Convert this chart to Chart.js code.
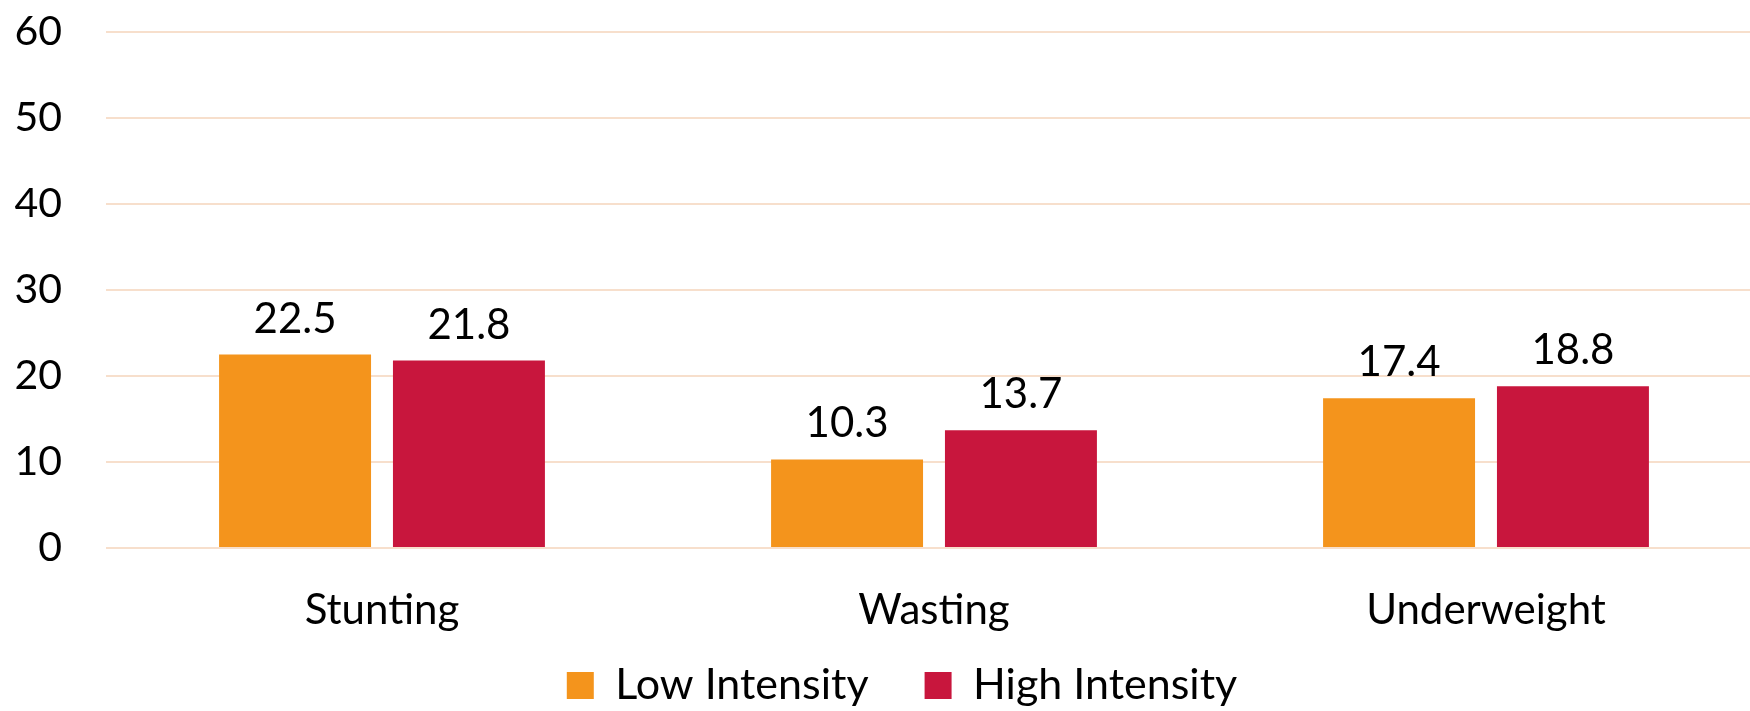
<!DOCTYPE html>
<html>
<head>
<meta charset="utf-8">
<script src="https://cdn.jsdelivr.net/npm/chart.js@4.4.1/dist/chart.umd.min.js"></script>
<style>
  html, body { margin: 0; padding: 0; background: #fff; overflow: hidden; }
  #wrap { width: 1762px; height: 711px; }
</style>
</head>
<body>
<div id="wrap"><canvas id="chart" width="1762" height="711"></canvas></div>
<script>
// Prevalence (%) by intensity group
const categories = ['Stunting', 'Wasting', 'Underweight'];
const lowIntensity = [22.5, 10.3, 17.4];
const highIntensity = [21.8, 13.7, 18.8];
const seriesNames = ['Low Intensity', 'High Intensity'];
const yTicks = [0, 10, 20, 30, 40, 50, 60];

const FONT = 'Lato, "Open Sans", sans-serif';

// Writes each bar's value just above it
const valueLabels = {
  id: 'valueLabels',
  afterDatasetsDraw(chart) {
    const ctx = chart.ctx;
    ctx.save();
    ctx.font = '42px ' + FONT;
    ctx.fillStyle = '#000';
    ctx.textAlign = 'center';
    ctx.textBaseline = 'alphabetic';
    chart.data.datasets.forEach((ds, i) => {
      chart.getDatasetMeta(i).data.forEach((bar, j) => {
        ctx.fillText(ds.data[j].toFixed(1), bar.x, bar.y - 22);
      });
    });
    ctx.restore();
  }
};

// Pulls the legend row up under the category labels and nudges it right
const legendPlacement = {
  id: 'legendPlacement',
  afterLayout(chart) {
    const lg = chart.legend;
    if (!lg) return;
    lg.top -= 40;
    lg.left += 42;
    lg.height = lg.bottom - lg.top;
    lg.width = lg.right - lg.left;
  }
};

new Chart(document.getElementById('chart'), {
  type: 'bar',
  data: {
    labels: categories,
    datasets: [
      { label: seriesNames[0], data: lowIntensity, backgroundColor: '#F4941C',
        categoryPercentage: 0.63, barPercentage: 0.874 },
      { label: seriesNames[1], data: highIntensity, backgroundColor: '#C8163D',
        categoryPercentage: 0.63, barPercentage: 0.874 }
    ]
  },
  options: {
    responsive: false,
    animation: false,
    layout: { padding: { top: 32, right: 0, bottom: 0, left: 0 } },
    plugins: {
      legend: {
        position: 'bottom',
        maxHeight: 63,
        labels: {
          boxWidth: 27, boxHeight: 27, padding: 56,
          color: '#000', font: { family: FONT, size: 43 }
        }
      },
      tooltip: { enabled: false }
    },
    scales: {
      x: {
        grid: { display: false, drawTicks: false },
        border: { display: false },
        ticks: { color: '#000', font: { family: FONT, size: 42 }, padding: 37 },
        afterFit(scale) { scale.height = 100; }
      },
      y: {
        min: yTicks[0], max: yTicks[yTicks.length - 1],
        afterBuildTicks(scale) { scale.ticks = yTicks.map(v => ({ value: v })); },
        grid: { color: '#F7DFCC', lineWidth: 2, drawTicks: false },
        border: { display: false },
        ticks: { color: '#000', font: { family: FONT, size: 41 }, padding: 44 },
        afterFit(scale) {
          scale.width = 106;
          scale.paddingTop = 0;
          scale.paddingBottom = 0;
        }
      }
    }
  },
  plugins: [valueLabels, legendPlacement]
});
</script>
</body>
</html>
